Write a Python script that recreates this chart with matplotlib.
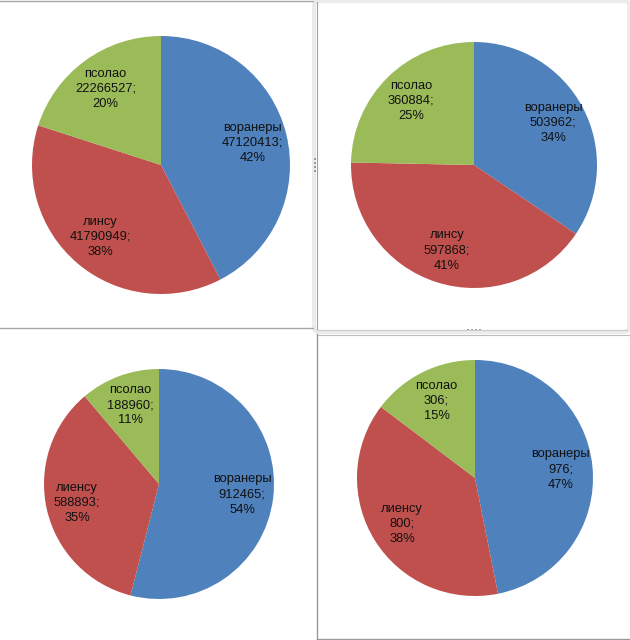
import matplotlib.pyplot as plt
from matplotlib.lines import Line2D
from matplotlib.patches import Rectangle, FancyBboxPatch

W, H = 630, 640

names_top = ['воранеры', 'линсу', 'псолао']
names_bottom = ['воранеры', 'лиенсу', 'псолао']
values1 = [47120413, 41790949, 22266527]
values2 = [503962, 597868, 360884]
values3 = [912465, 588893, 188960]
values4 = [976, 800, 306]
colors = ['#4F81BD', '#C0504D', '#9BBB59']


def px(x, y):
    # pixel position (from top-left) -> figure fraction
    return x / W, 1 - y / H


def draw_pie(fig, cx, cy, r, names, values):
    left, bottom = px(cx - r, cy + r)
    ax = fig.add_axes([left, bottom, 2 * r / W, 2 * r / H])
    wedges, texts, autotexts = ax.pie(values, colors=colors, startangle=90,
                                      counterclock=False, radius=1,
                                      autopct='%1.0f%%', pctdistance=0.73,
                                      wedgeprops=dict(linewidth=0))
    total = sum(values)
    for t, name, v in zip(autotexts, names, values):
        t.set_text(f'{name}\n{v};\n{round(100 * v / total):.0f}%')
        t.set_fontsize(9.3)
        t.set_family(['Liberation Sans', 'DejaVu Sans'])
        t.set_color('#111111')
        t.set_linespacing(1.35)
    ax.set_xlim(-1, 1)
    ax.set_ylim(-1, 1)
    ax.set_aspect('equal')
    ax.axis('off')
    return ax


fig = plt.figure(figsize=(6.3, 6.4), dpi=100)
fig.patch.set_facecolor('white')

draw_pie(fig, 161, 165, 129, names_top, values1)
draw_pie(fig, 474, 165, 123, names_top, values2)
draw_pie(fig, 159, 484, 115, names_bottom, values3)
draw_pie(fig, 475, 478, 118, names_bottom, values4)


def hline(x0, x1, y, color='#a6a6a6', lw=1.0):
    (a, b), (c, d) = px(x0, y), px(x1, y)
    fig.add_artist(Line2D([a, c], [b, d], color=color, lw=lw, transform=fig.transFigure))


def vline(x, y0, y1, color='#a6a6a6', lw=1.0):
    (a, b), (c, d) = px(x, y0), px(x, y1)
    fig.add_artist(Line2D([a, c], [b, d], color=color, lw=lw, transform=fig.transFigure))


# panel borders
hline(0, 313, 0.5)
hline(0, 313, 328)
# selection frame around top-right chart
x0, y0 = px(314, 332)
x1, y1 = px(629, 1)
fig.add_artist(FancyBboxPatch((x0, y0), x1 - x0, y1 - y0,
                              boxstyle='round,pad=0,rounding_size=0.008',
                              transform=fig.transFigure, facecolor='none',
                              edgecolor='#ebebeb', lw=3))
vline(317, 2, 330, color='#a0a0a0', lw=0.8)
hline(317, 627, 330, color='#cccccc', lw=0.8)
# bottom-right panel
hline(317, 630, 334.5, color='#bdbdbd', lw=0.8)
vline(317, 334, 640, color='#9a9a9a', lw=1.0)
hline(317, 630, 639, color='#9a9a9a', lw=1.0)

# frame handle dots
for i in range(4):
    a, b = px(467 + i * 4, 331)
    fig.add_artist(Rectangle((a, b), 2 / W, 2 / H, transform=fig.transFigure,
                             facecolor='#9a9a9a', edgecolor='none'))
    a, b = px(313.5, 160 + i * 4)
    fig.add_artist(Rectangle((a, b), 2 / W, 2 / H, transform=fig.transFigure,
                             facecolor='#9a9a9a', edgecolor='none'))

fig.savefig('out.png', dpi=100)
